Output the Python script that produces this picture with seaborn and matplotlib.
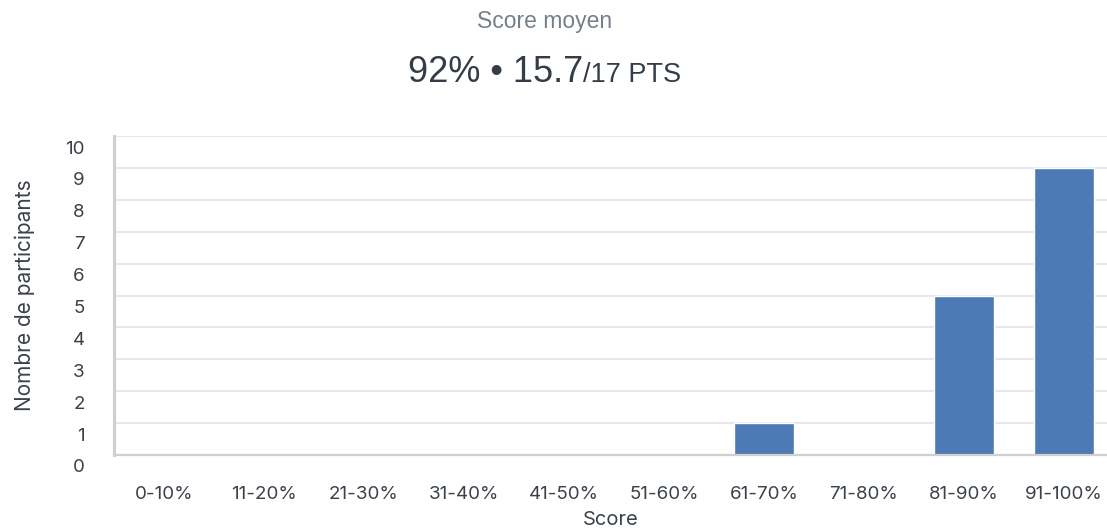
import pandas as pd
import matplotlib.pyplot as plt
import seaborn as sns
from matplotlib.transforms import ScaledTranslation

categories = ['0-10%', '11-20%', '21-30%', '31-40%', '41-50%',
              '51-60%', '61-70%', '71-80%', '81-90%', '91-100%']
participants = [0, 0, 0, 0, 0, 0, 1, 0, 5, 9]
y_ticks = list(range(0, 11))

df = pd.DataFrame({'tranche': categories, 'participants': participants})

sns.set_theme(style='white')
plt.rcParams['font.family'] = ['Inter', 'DejaVu Sans']

fig = plt.figure(figsize=(11.07, 5.31), dpi=100)
ax = fig.add_axes([114 / 1107, 1 - 455 / 531, 1 - 114 / 1107, (455 - 136) / 531])

sns.barplot(data=df, x='tranche', y='participants', color='#4d7ab5',
            saturation=1, width=0.6, ax=ax)

ax.set_xlim(-0.5, 9.43)
ax.set_ylim(0, 10)
ax.set_yticks(y_ticks)
ax.grid(axis='y', color='#e8e8e8', linewidth=1.5)
ax.set_axisbelow(True)
for s in ['top', 'right']:
    ax.spines[s].set_visible(False)
ax.spines['left'].set_color('#cfcfcf')
ax.spines['left'].set_linewidth(2.2)
ax.spines['bottom'].set_color('#d0d0d0')
ax.spines['bottom'].set_linewidth(1.6)

ax.tick_params(axis='x', length=0, pad=22, labelsize=13.5, labelcolor='#3a4149')
ax.tick_params(axis='y', length=0, pad=21, labelsize=13.5, labelcolor='#3a4149')
for lab in ax.get_yticklabels():
    lab.set_transform(lab.get_transform() + ScaledTranslation(0, -0.11, fig.dpi_scale_trans))

ax.set_xlabel('Score', fontsize=14.5, color='#3a4149', labelpad=6)
ax.set_ylabel('Nombre de participants', fontsize=15, color='#3a4149', labelpad=22)

fig.text(0.492, 1 - 28 / 531, 'Score moyen', ha='center', va='baseline',
         fontsize=16.5, color='#76808a', family=['Liberation Sans', 'DejaVu Sans'])
fig.text(583 / 1107, 1 - 82 / 531, '92% • 15.7', ha='right', va='baseline',
         fontsize=26, color='#343d47', family=['Liberation Sans', 'DejaVu Sans'])
fig.text(583 / 1107, 1 - 82 / 531, '/17 PTS', ha='left', va='baseline',
         fontsize=19.5, color='#343d47', family=['Liberation Sans', 'DejaVu Sans'])

fig.savefig('out.png', dpi=100)
